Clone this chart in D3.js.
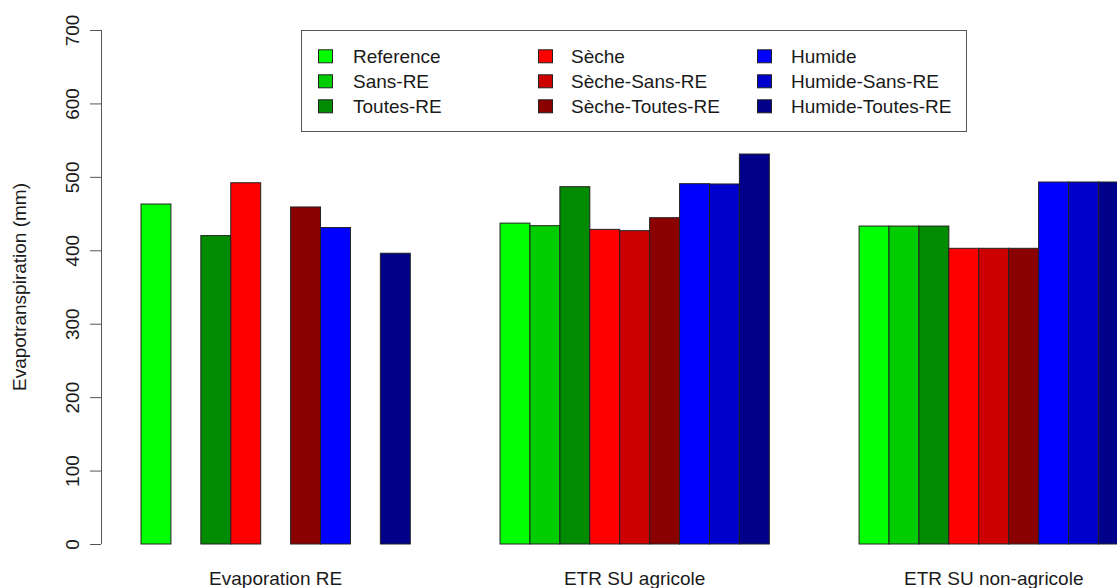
<!DOCTYPE html>
<html>
<head>
<meta charset="utf-8">
<script src="https://cdn.jsdelivr.net/npm/d3@7"></script>
<style>
  html, body { margin: 0; padding: 0; background: #fff; overflow: hidden; }
  text { font-family: "Liberation Sans", Arial, Helvetica, sans-serif; fill: #1a1a1a; }
</style>
</head>
<body>
<svg id="chart" width="1117" height="588"></svg>
<script>
const categories = ["Evaporation RE", "ETR SU agricole", "ETR SU non-agricole"];
const seriesNames = ["Reference", "Sans-RE", "Toutes-RE", "Sèche", "Sèche-Sans-RE", "Sèche-Toutes-RE", "Humide", "Humide-Sans-RE", "Humide-Toutes-RE"];
const seriesColors = ["#00FF00", "#00CD00", "#008B00", "#FF0000", "#CD0000", "#8B0000", "#0000FF", "#0000CD", "#00008B"];
const reference      = [463, 437, 433];
const sansRE         = [0, 433.5, 433];
const toutesRE       = [420, 486.6, 433];
const seche          = [492, 428.5, 402.7];
const secheSansRE    = [0, 426.7, 402.7];
const secheToutesRE  = [459, 444.4, 402.7];
const humide         = [431, 490.7, 493];
const humideSansRE   = [0, 490.3, 493];
const humideToutesRE = [396, 531.1, 493];
const yTicks = [0, 100, 200, 300, 400, 500, 600, 700];
const yTitle = "Evapotranspiration (mm)";

const seriesValues = [reference, sansRE, toutesRE, seche, secheSansRE, secheToutesRE, humide, humideSansRE, humideToutesRE];

const svg = d3.select("#chart");
const FS = 19;

// scales: x in bar units (R barplot beside with space = c(0,3))
const nS = seriesNames.length;
const gap = 3;
const unit = 29.92;
const x = d3.scaleLinear().domain([0, categories.length * (nS + gap)]).range([141 - gap * unit, 141 - gap * unit + categories.length * (nS + gap) * unit]);
const y = d3.scaleLinear().domain([0, 700]).range([544, 30]);

// bars
const bars = [];
categories.forEach((c, g) => {
  seriesNames.forEach((s, i) => {
    const start = g * (nS + gap) + gap + i;
    bars.push({ g, i, x0: start, x1: start + 1, v: seriesValues[i][g], color: seriesColors[i] });
  });
});
svg.append("g").selectAll("rect").data(bars).enter().append("rect")
  .attr("x", d => x(d.x0))
  .attr("width", d => x(d.x1) - x(d.x0))
  .attr("y", d => y(d.v))
  .attr("height", d => y(0) - y(d.v))
  .attr("fill", d => d.color)
  .attr("stroke", "#222")
  .attr("stroke-width", 1);

// y axis
const yAxis = d3.axisLeft(y).tickValues(yTicks).tickSize(11).tickSizeOuter(0).tickPadding(0);
const ga = svg.append("g").attr("transform", "translate(101,0)").call(yAxis);
ga.select(".domain").attr("stroke", "#555").attr("stroke-width", 1)
  .attr("d", `M0.5,${y(0)}V${y(700)}`);
ga.selectAll(".tick line").attr("stroke", "#555");
ga.selectAll(".tick text")
  .attr("font-size", FS)
  .attr("fill", "#1a1a1a")
  .attr("text-anchor", "middle")
  .attr("x", null).attr("dy", null)
  .attr("transform", "translate(-22.5,0) rotate(-90)");

// y title
svg.append("text")
  .attr("transform", `translate(26,${(y(0) + y(700)) / 2}) rotate(-90)`)
  .attr("text-anchor", "middle")
  .attr("font-size", FS)
  .text(yTitle);

// category labels
svg.append("g").selectAll("text").data(categories).enter().append("text")
  .attr("x", (d, g) => x(g * (nS + gap) + gap + nS / 2))
  .attr("y", 585)
  .attr("text-anchor", "middle")
  .attr("font-size", FS)
  .text(d => d);

// legend
const lg = svg.append("g");
lg.append("rect").attr("x", 301.5).attr("y", 30.5).attr("width", 665).attr("height", 101)
  .attr("fill", "#fff").attr("stroke", "#555").attr("stroke-width", 1);
const colX = [318, 538, 757];
const textX = [353, 571, 791];
const rowY = [63.3, 88.3, 113.3];
seriesNames.forEach((s, i) => {
  const col = Math.floor(i / 3), row = i % 3;
  lg.append("rect").attr("x", colX[col] + 0.5).attr("y", rowY[row] - 13.5).attr("width", 14).attr("height", 13)
    .attr("fill", seriesColors[i]).attr("stroke", "#222").attr("stroke-width", 1);
  lg.append("text").attr("x", textX[col]).attr("y", rowY[row]).attr("font-size", FS).text(s);
});
</script>
</body>
</html>
